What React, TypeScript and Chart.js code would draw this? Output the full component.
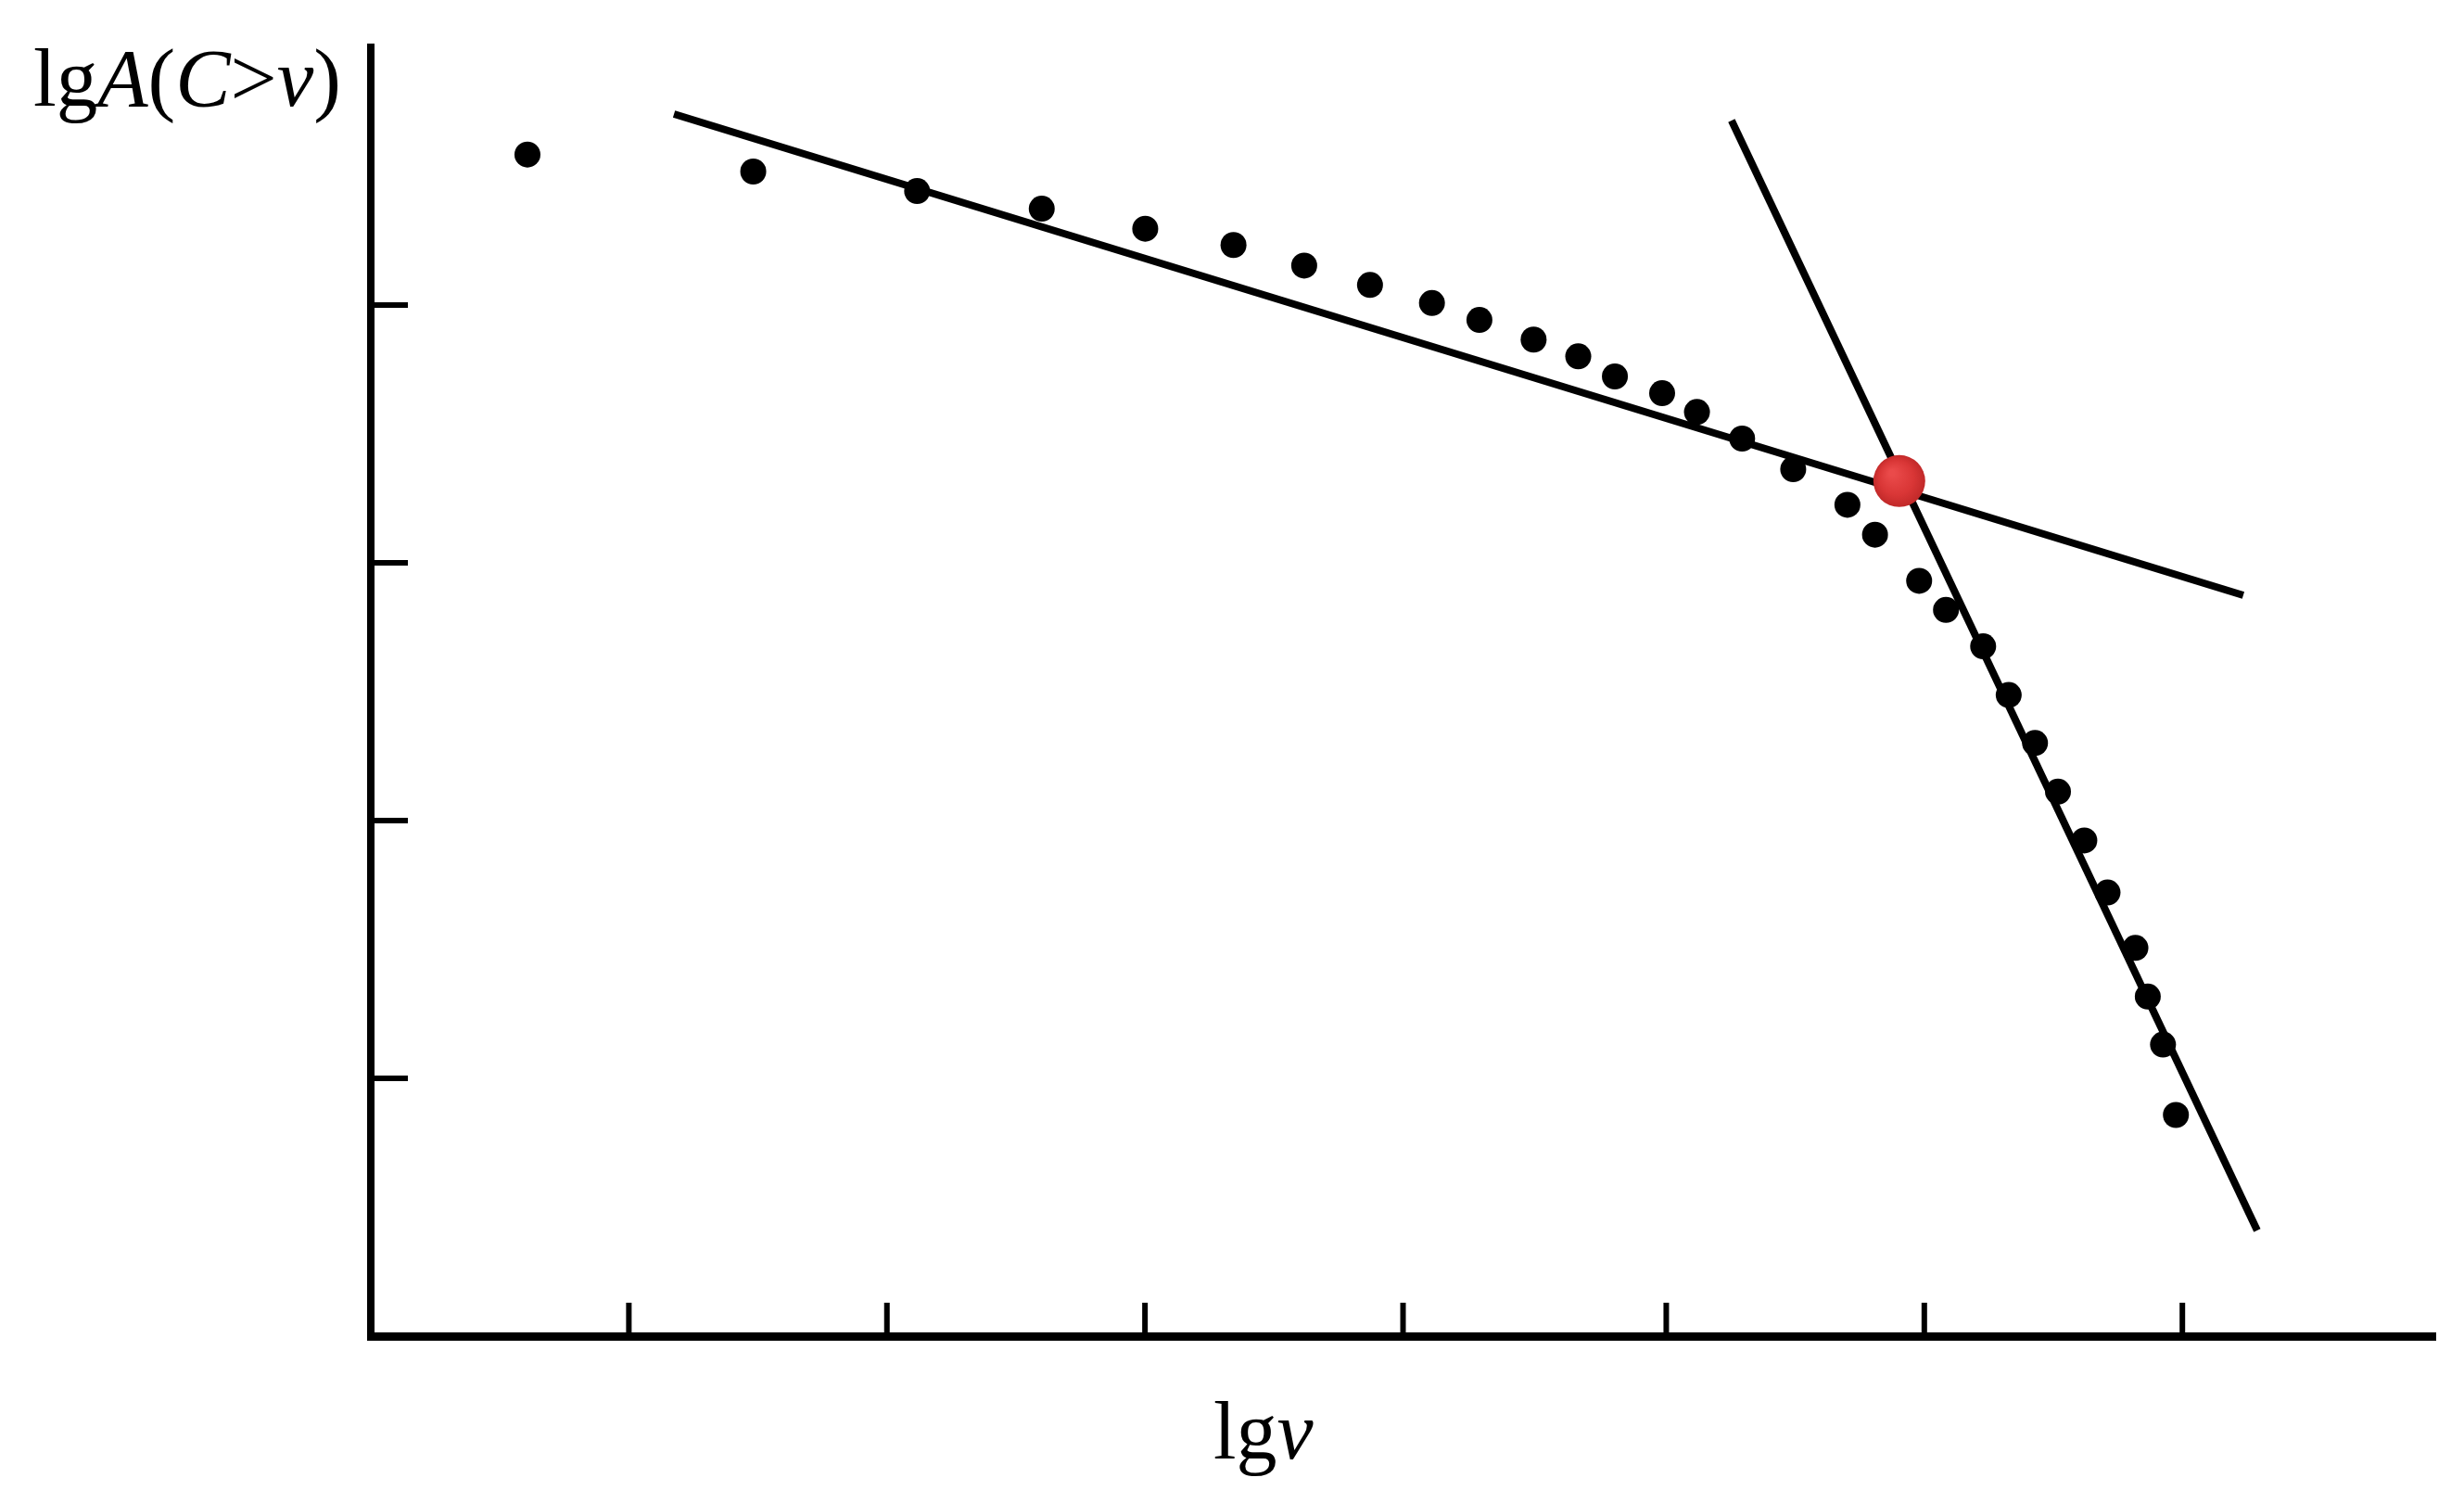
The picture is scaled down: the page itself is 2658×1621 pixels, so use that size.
import { useEffect, useRef } from "react";
import { Chart, registerables } from "chart.js";

Chart.register(...registerables);

// observed points: lg v (x) and lg A(C>v) (y)
const lgV = [0.607, 1.482, 2.117, 2.6, 3.001, 3.343, 3.617, 3.872, 4.112, 4.296, 4.506, 4.679, 4.821, 5.004, 5.139, 5.314, 5.512, 5.722, 5.829, 6.0, 6.104, 6.248, 6.347, 6.449, 6.538, 6.64, 6.73, 6.838, 6.886, 6.945, 6.995];
const lgA = [4.584, 4.518, 4.442, 4.374, 4.296, 4.233, 4.153, 4.078, 4.008, 3.942, 3.866, 3.801, 3.723, 3.658, 3.585, 3.482, 3.363, 3.225, 3.109, 2.93, 2.817, 2.676, 2.487, 2.301, 2.112, 1.923, 1.721, 1.506, 1.317, 1.131, 0.858];

// fitted lines
const shallowFitX = [1.175, 7.256];
const shallowFitY = [4.741, 2.874];
const steepFitX = [5.273, 7.31];
const steepFitY = [4.716, 0.41];

// break point
const breakX = [5.923];
const breakY = [3.317];

// axis ranges & tick positions
const xRange = [0, 8];
const yRange = [0, 5];
const xTicks = [1, 2, 3, 4, 5.02, 6.02, 7.02];
const yTicks = [1, 2, 3, 4];

const yLabel = [
  { t: "lg", i: false },
  { t: "A", i: true },
  { t: "(", i: false },
  { t: "C", i: true },
  { t: ">", i: false },
  { t: "v", i: true },
  { t: ")", i: false },
];
const xLabel = [
  { t: "lg", i: false },
  { t: "v", i: true },
];

const toPts = (xs: number[], ys: number[]) => xs.map((x, k) => ({ x, y: ys[k] }));

function drawMixed(ctx: CanvasRenderingContext2D, segs: { t: string; i: boolean }[], x: number, y: number, size: number) {
  let cx = x;
  ctx.textBaseline = "alphabetic";
  ctx.textAlign = "left";
  ctx.fillStyle = "#000";
  for (const s of segs) {
    ctx.font = `${s.i ? "italic " : ""}${size}px 'Liberation Serif', 'Times New Roman', serif`;
    ctx.fillText(s.t, cx, y);
    cx += ctx.measureText(s.t).width;
  }
}

const decorPlugin = {
  id: "decor",
  beforeDatasetsDraw(chart: any) {
    const { ctx, scales, chartArea } = chart;
    const xs = scales.x;
    const ys = scales.y;
    ctx.save();
    ctx.strokeStyle = "#000";
    ctx.lineWidth = 6;
    ctx.lineCap = "butt";
    xTicks.forEach((v) => {
      const px = xs.getPixelForValue(v);
      ctx.beginPath();
      ctx.moveTo(px, chartArea.bottom);
      ctx.lineTo(px, chartArea.bottom - 36);
      ctx.stroke();
    });
    yTicks.forEach((v) => {
      const py = ys.getPixelForValue(v);
      ctx.beginPath();
      ctx.moveTo(chartArea.left, py);
      ctx.lineTo(chartArea.left + 40, py);
      ctx.stroke();
    });
    ctx.restore();
  },
  afterDraw(chart: any) {
    const { ctx } = chart;
    ctx.save();
    drawMixed(ctx, yLabel, 36, 114, 89);
    drawMixed(ctx, xLabel, 1309, 1573, 88);
    ctx.restore();
  },
};

const redFill = (c: any) => {
  const chart = c.chart;
  const xs = chart.scales?.x;
  const ys = chart.scales?.y;
  if (!xs || !ys || !c.raw) return "#d93a3a";
  const px = xs.getPixelForValue(c.raw.x);
  const py = ys.getPixelForValue(c.raw.y);
  if (!isFinite(px) || !isFinite(py)) return "#d93a3a";
  const g = chart.ctx.createRadialGradient(px - 8, py - 9, 3, px, py, 29);
  g.addColorStop(0, "#ea4a4a");
  g.addColorStop(0.6, "#d93636");
  g.addColorStop(1, "#bf2828");
  return g;
};

export default function App() {
  const ref = useRef<HTMLCanvasElement | null>(null);
  useEffect(() => {
    if (!ref.current) return;
    const chart = new Chart(ref.current, {
      type: "scatter",
      data: {
        datasets: [
          {
            label: "break",
            data: toPts(breakX, breakY),
            pointRadius: 28,
            pointBackgroundColor: redFill,
            pointBorderWidth: 0,
            order: 0,
          },
          {
            label: "fit1",
            data: toPts(shallowFitX, shallowFitY),
            showLine: true,
            pointRadius: 0,
            borderColor: "#000",
            borderWidth: 8,
            order: 1,
          },
          {
            label: "fit2",
            data: toPts(steepFitX, steepFitY),
            showLine: true,
            pointRadius: 0,
            borderColor: "#000",
            borderWidth: 8,
            order: 1,
          },
          {
            label: "data",
            data: toPts(lgV, lgA),
            pointRadius: 14,
            pointBackgroundColor: "#000",
            pointBorderWidth: 0,
            order: 2,
          },
        ],
      },
      options: {
        responsive: false,
        animation: false,
        devicePixelRatio: 1,
        layout: { padding: { left: 400, right: 31, top: 51, bottom: 180 } },
        plugins: { legend: { display: false }, tooltip: { enabled: false } },
        scales: {
          x: {
            type: "linear",
            min: xRange[0],
            max: xRange[1],
            ticks: { display: false, stepSize: 1 },
            grid: { display: false, drawTicks: false },
            border: { display: true, color: "#000", width: 9 },
          },
          y: {
            type: "linear",
            min: yRange[0],
            max: yRange[1],
            ticks: { display: false, stepSize: 1 },
            grid: { display: false, drawTicks: false },
            border: { display: true, color: "#000", width: 8 },
          },
        },
      },
      plugins: [decorPlugin],
    });
    return () => chart.destroy();
  }, []);
  return (
    <div style={{ position: "absolute", left: 0, top: 0, width: 2658, height: 1621, background: "#fff" }}>
      <canvas ref={ref} width={2658} height={1621} />
    </div>
  );
}
